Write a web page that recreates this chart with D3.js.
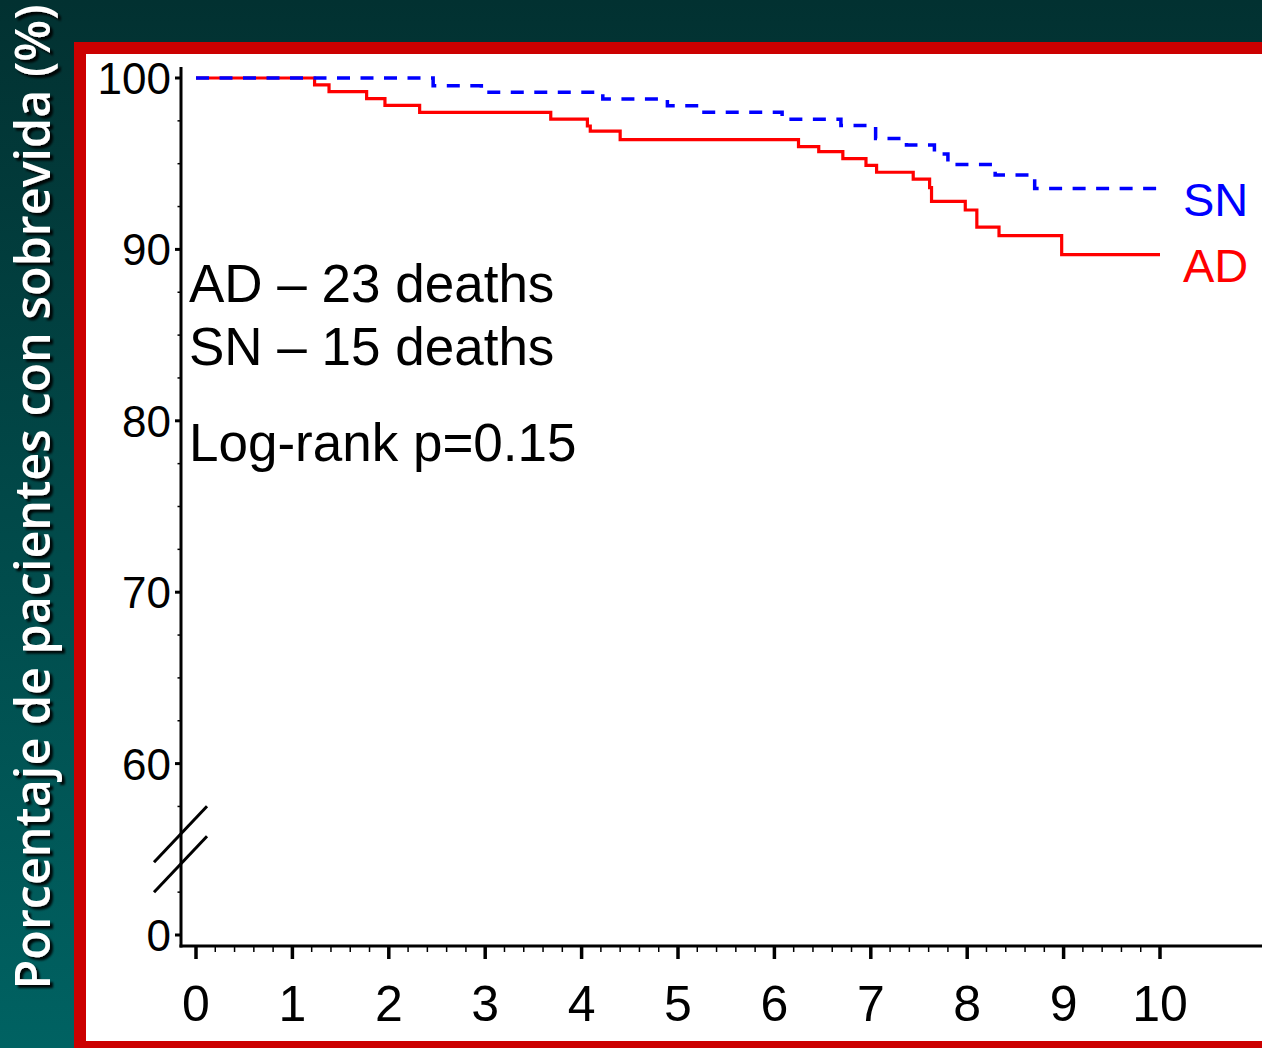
<!DOCTYPE html>
<html>
<head>
<meta charset="utf-8">
<script src="https://cdn.jsdelivr.net/npm/d3@7"></script>
<style>
  html, body { margin: 0; padding: 0; background: #003333; }
  svg { display: block; }
</style>
</head>
<body>
<svg id="km_plot" width="1262" height="1048"></svg>
<script>
// Kaplan-Meier steps (years, % surviving)
const adTimes = [0, 1.23, 1.38, 1.77, 1.96, 2.32, 3.68, 4.06, 4.09, 4.40, 6.25, 6.46, 6.71, 6.95, 7.06, 7.44, 7.61, 7.63, 7.98, 8.10, 8.33, 8.98, 10];
const adSurv  = [100, 99.6, 99.2, 98.8, 98.4, 98.0, 97.6, 97.2, 96.9, 96.4, 96.0, 95.7, 95.3, 94.9, 94.5, 94.1, 93.6, 92.8, 92.3, 91.3, 90.8, 89.7, 89.7];

const snTimes = [0, 2.46, 2.96, 4.22, 4.89, 5.21, 6.08, 6.69, 7.05, 7.37, 7.66, 7.80, 8.29, 8.70, 10];
const snSurv  = [100, 99.55, 99.17, 98.77, 98.38, 98.0, 97.6, 97.23, 96.47, 96.09, 95.57, 94.95, 94.34, 93.56, 93.56];

// axis ticks; the value 50 stands in for 0 below the axis break
const yTickValues = [50, 60, 70, 80, 90, 100];
const yTickLabels = ['0', '60', '70', '80', '90', '100'];
const yMinorTicks = [52.5, 57.5, 62.5, 65, 67.5, 72.5, 75, 77.5, 82.5, 85, 87.5, 92.5, 95, 97.5];
const xTickValues = [0, 1, 2, 3, 4, 5, 6, 7, 8, 9, 10];
const xMinorTicks = d3.range(0, 51).map(i => i / 5).filter(v => Math.abs(v - Math.round(v)) > 1e-6);

const notes = ['AD \u2013 23 deaths', 'SN \u2013 15 deaths', 'Log-rank p=0.15'];

const svg = d3.select('#km_plot');
const width = 1262, height = 1048;

// background + frame
const defs = svg.append('defs');
const grad = defs.append('linearGradient').attr('id', 'bg').attr('x1', 0).attr('y1', 0).attr('x2', 0).attr('y2', 1);
grad.append('stop').attr('offset', '0%').attr('stop-color', '#023131');
grad.append('stop').attr('offset', '100%').attr('stop-color', '#006262');
const shadow = defs.append('filter').attr('id', 'shadow').attr('x', '-10%').attr('y', '-10%').attr('width', '120%').attr('height', '120%');
shadow.append('feDropShadow').attr('dx', 3).attr('dy', 3).attr('stdDeviation', 1.2).attr('flood-color', '#000').attr('flood-opacity', 0.9);

svg.append('rect').attr('width', width).attr('height', height).attr('fill', 'url(#bg)');
svg.append('rect').attr('x', 74).attr('y', 42).attr('width', 1300).attr('height', 1006).attr('fill', '#cc0000');
svg.append('rect').attr('x', 86).attr('y', 54).attr('width', 1300).attr('height', 987).attr('fill', '#ffffff');

// y title
svg.append('g').attr('filter', 'url(#shadow)')
  .append('text')
  .attr('transform', 'translate(50,497) rotate(-90)')
  .attr('text-anchor', 'middle')
  .attr('font-family', '"Open Sans", sans-serif')
  .attr('font-weight', 600)
  .attr('font-size', 48)
  .attr('textLength', 985)
  .attr('lengthAdjust', 'spacingAndGlyphs')
  .attr('fill', '#ffffff')
  .text('Porcentaje de pacientes con sobrevida (%)');

// scales
const xScale = d3.scaleLinear().domain([0, 10]).range([196, 1160]);
const yScale = d3.scaleLinear().domain([50, 100]).range([935, 78]);
const axisX = 181, axisY = 946;

const g = svg.append('g').attr('font-family', '"Liberation Sans", Arial, sans-serif');

// y axis
g.append('line').attr('x1', axisX).attr('x2', axisX).attr('y1', 67).attr('y2', axisY + 1.5)
  .attr('stroke', '#000').attr('stroke-width', 3);
g.selectAll('.ymaj').data(yTickValues).join('line')
  .attr('x1', axisX - 6).attr('x2', axisX).attr('y1', d => yScale(d)).attr('y2', d => yScale(d))
  .attr('stroke', '#000').attr('stroke-width', 3);
g.selectAll('.ymin').data(yMinorTicks).join('line')
  .attr('x1', axisX - 3.5).attr('x2', axisX).attr('y1', d => yScale(d)).attr('y2', d => yScale(d))
  .attr('stroke', '#000').attr('stroke-width', 1.5);
g.selectAll('.ylab').data(yTickValues).join('text')
  .attr('x', 171).attr('y', d => yScale(d) + 16)
  .attr('text-anchor', 'end').attr('font-size', 44).attr('fill', '#000')
  .text((d, i) => yTickLabels[i]);

// axis break
const breakY = yScale(55);
[-15, 15].forEach(off => {
  g.append('line')
    .attr('x1', axisX - 27).attr('y1', breakY + off + 28)
    .attr('x2', axisX + 26).attr('y2', breakY + off - 28)
    .attr('stroke', '#000').attr('stroke-width', 3);
});

// x axis
g.append('line').attr('x1', axisX - 1.5).attr('x2', width).attr('y1', axisY).attr('y2', axisY)
  .attr('stroke', '#000').attr('stroke-width', 3);
g.selectAll('.xmaj').data(xTickValues).join('line')
  .attr('x1', d => xScale(d)).attr('x2', d => xScale(d)).attr('y1', axisY).attr('y2', axisY + 13)
  .attr('stroke', '#000').attr('stroke-width', 3.5);
g.selectAll('.xmin').data(xMinorTicks).join('line')
  .attr('x1', d => xScale(d)).attr('x2', d => xScale(d)).attr('y1', axisY).attr('y2', axisY + 6)
  .attr('stroke', '#000').attr('stroke-width', 1.5);
g.selectAll('.xlab').data(xTickValues).join('text')
  .attr('x', d => xScale(d)).attr('y', 1021)
  .attr('text-anchor', 'middle').attr('font-size', 50).attr('fill', '#000')
  .text(d => d);

// curves
const line = d3.line()
  .x(d => xScale(d[0]))
  .y(d => yScale(d[1]))
  .curve(d3.curveStepAfter);

g.append('path').datum(d3.zip(adTimes, adSurv))
  .attr('d', line).attr('fill', 'none').attr('stroke', '#ff0000').attr('stroke-width', 3.2);
g.append('path').datum(d3.zip(snTimes, snSurv))
  .attr('d', line).attr('fill', 'none').attr('stroke', '#0000ff').attr('stroke-width', 3.5)
  .attr('stroke-dasharray', '13,10.5');

// curve labels
g.append('text').attr('x', 1183).attr('y', 216).attr('font-size', 47).attr('fill', '#0000ff').text('SN');
g.append('text').attr('x', 1183).attr('y', 282).attr('font-size', 47).attr('fill', '#ff0000').text('AD');

// notes
const noteY = [302, 365, 461];
g.selectAll('.note').data(notes).join('text')
  .attr('x', 189).attr('y', (d, i) => noteY[i])
  .attr('font-size', 53).attr('fill', '#000')
  .text(d => d);
</script>
</body>
</html>
